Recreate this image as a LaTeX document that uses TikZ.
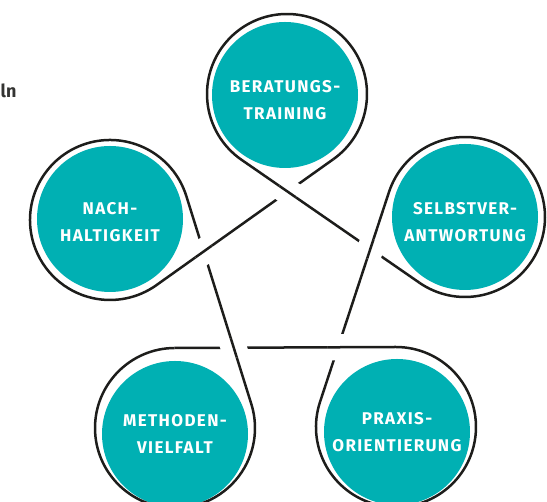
\documentclass[tikz,border=0pt]{standalone}
\usepackage{fontspec}
\usetikzlibrary{calc}
\newfontfamily\kreisfont[LetterSpace=8]{Fira Sans}
\newfontfamily\randfont{Fira Sans}
\definecolor{tuerkis}{HTML}{00B0B3}
\definecolor{seil}{HTML}{1D1D1B}
\newlength{\looprad}
\setlength{\looprad}{80pt}

\begin{document}
\begin{tikzpicture}[x=1pt,y=1pt]
  \tikzstyle{bubble}=[
       circle,
       fill=tuerkis,
       inner sep=0pt,
       minimum size=146pt,
       text=white,
       align=center,
       font=\kreisfont\bfseries\fontsize{17}{27}\selectfont]
  \tikzstyle{rope}=[draw=seil, line width=2.5pt]
  \tikzstyle{gap}=[draw=white, line width=26pt]
  \useasboundingbox (0,0) rectangle (547,502);

  \node[anchor=base west, inner sep=0pt, text=seil!90,
        font=\randfont\bfseries\fontsize{18}{22}\selectfont] (rest) at (0.5,404) {ln};

  % the five circles
  \node[bubble] (ber)  at (285,407) {\rule{0pt}{22pt}BERATUNGS-\\TRAINING};
  \node[bubble] (sel)  at (465,285) {\rule{0pt}{22pt}SELBSTVER-\\ANTWORTUNG};
  \node[bubble] (pra)  at (397,70)  {PRAXIS-\\ORIENTIERUNG};
  \node[bubble] (met)  at (175,68)  {METHODEN-\\VIELFALT};
  \node[bubble] (nach) at (110,283) {\rule{0pt}{18pt}NACH-\\HALTIGKEIT};

  % centres of the rope loops
  \coordinate (ber-o)  at (287,408);
  \coordinate (sel-o)  at (465,285);
  \coordinate (pra-o)  at (396,75);
  \coordinate (met-o)  at (175,74);
  \coordinate (nach-o) at (110,282);

  % where the rope leaves one loop and meets the next
  \foreach \cur/\nxt in {ber/sel, sel/pra, pra/met, met/nach, nach/ber}
  {
    \coordinate (\cur-out) at ($(\cur-o)!\looprad!-90:(\nxt-o)$);
    \coordinate (\nxt-in)  at ($(\nxt-o)!\looprad!90:(\cur-o)$);
  }

  % loops and straight pieces
  \foreach \cur/\nxt in {ber/sel, sel/pra, pra/met, met/nach, nach/ber}
    \draw[rope] let \p1=($(\cur-in)-(\cur-o)$), \p2=($(\cur-out)-(\cur-o)$),
                    \n1={atan2(\y1,\x1)}, \n2={atan2(\y2,\x2)},
                    \n3={\n1+mod(\n2-\n1+360,360)} in
      (\cur-in) arc[start angle=\n1, end angle=\n3, radius=\looprad] -- (\nxt-in);

  % crossings, outgoing piece on top
  \foreach \pre/\cur/\nxt in {nach/ber/sel, ber/sel/pra, sel/pra/met, pra/met/nach, met/nach/ber}
  {
    \coordinate (\cur-x) at (intersection of \pre-out--\cur-in and \cur-out--\nxt-in);
    \draw[gap]  ($(\cur-x)!10pt!(\nxt-in)$) -- ($(\cur-x)!-10pt!(\nxt-in)$);
    \draw[rope] ($(\cur-x)!10pt!(\nxt-in)$) -- ($(\cur-x)!-10pt!(\nxt-in)$);
  }
\end{tikzpicture}
\end{document}
